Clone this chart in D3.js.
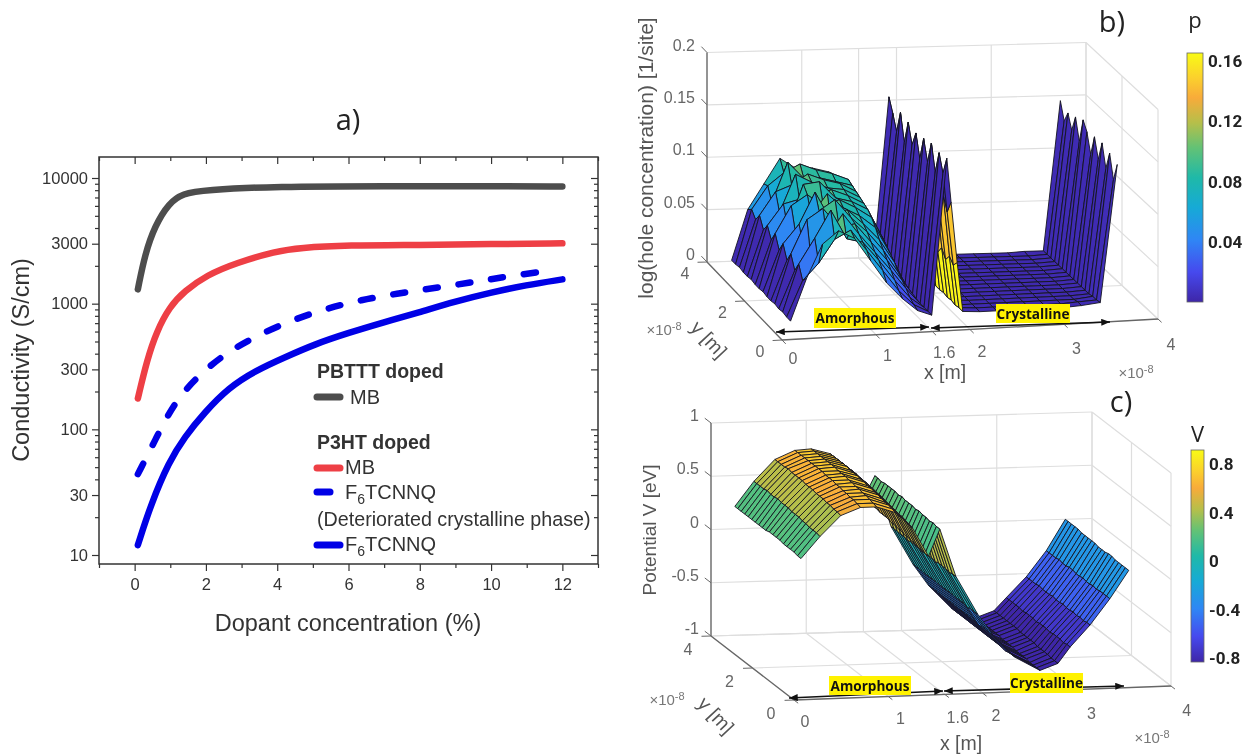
<!DOCTYPE html>
<html lang="en">
<head>
<meta charset="UTF-8"/>
<title>Conductivity and hole / potential surfaces</title>
<style>
  html, body { margin: 0; padding: 0; background: #fff; }
  svg { display: block; font-family: "Liberation Sans", Arial, sans-serif; filter: blur(0.35px); }
  .title { font-family: "Open Sans", sans-serif; fill: #222; }
  .lab3d { fill: #555; font-size: 19.5px; }
  .tick3d { fill: #666; font-size: 16px; text-anchor: middle; }
  .bar-label { fill: #222; font-size: 17px; font-weight: bold; font-family: "Liberation Sans Narrow", "Roboto", sans-serif; }
  .tag { font-family: "Open Sans", sans-serif; font-weight: bold; font-size: 13.6px; fill: #111; text-anchor: middle; }
  .axis-a text { font-family: "Liberation Sans", Arial, sans-serif; font-size: 16.5px; fill: #333; }
  .axis-a path, .axis-a line { stroke: #333; stroke-width: 1.2; }
</style>
</head>
<body>
<svg id="fig" width="1250" height="755"></svg>
<script src="https://d3js.org/d3.v7.min.js"></script>
<script>
// ---- panel a: conductivity vs dopant concentration
const pbtttX = [0.09, 0.29, 0.57, 0.96, 1.35, 1.96, 3.96, 7, 10, 12];
const pbtttMB = [1300, 2480, 4170, 6310, 7530, 8030, 8570, 8630, 8600, 8570];
const p3htMbX = [0.09, 0.35, 0.62, 0.98, 1.4, 2.02, 2.85, 3.96, 4.63, 5.97, 8, 10, 12];
const p3htMB = [176, 359, 603, 944, 1259, 1687, 2113, 2612, 2786, 2917, 2930, 2980, 3020];
const f6DashX = [0.09, 0.62, 1.12, 1.79, 2.57, 3.46, 4.41, 5.36, 6.36, 7.36, 8.36, 9.37, 10.37, 11.54];
const f6Dash = [44, 87, 165, 269, 407, 562, 738, 912, 1072, 1202, 1327, 1462, 1633, 1820];
const f6SolidX = [0.09, 0.46, 0.96, 1.4, 1.96, 2.63, 3.41, 4.19, 5.08, 5.97, 6.97, 7.97, 8.98, 9.98, 10.98, 12];
const f6Solid = [12, 25.5, 55, 87, 136, 214, 295, 372, 479, 582, 708, 851, 1040, 1222, 1406, 1560];
const condTicks = [10, 30, 100, 300, 1000, 3000, 10000];
const condMinor = [20, 40, 50, 60, 70, 80, 90, 200, 400, 500, 600, 700, 800, 900, 2000, 4000, 5000, 6000, 7000, 8000, 9000];
const concMajor = [0, 2, 4, 6, 8, 10, 12];
const concMinor = [-1, 1, 3, 5, 7, 9, 11, 13];

// ---- panels b, c: shared axis ticks
const xTicks3d = [0, 1, 1.6, 2, 3, 4];
const yTicks3d = [0, 2, 4];

// ---- panel b: hole concentration, rows run from front (small y) to back
const holeX = [0.25, 0.42, 0.59, 0.76, 0.93, 1.1, 1.27, 1.44, 1.6, 1.75, 1.91, 1.955, 2.02, 2.08, 2.26, 2.44, 2.62, 2.8, 2.98, 3.16, 3.34, 3.54, 3.72];
const holeY = [0.8, 1.01, 1.22, 1.43, 1.64, 1.85, 2.06, 2.27, 2.48, 2.69, 2.9, 3.11, 3.32, 3.53, 3.74, 3.95];
const holeP = [
  [.002,.042,.074,.086,.078,.056,.034,.018,.006,.001,.150,.108,.050,.003,.002,.002,.002,.002,.002,.002,.003,.005,.136],
  [.002,.036,.052,.074,.082,.062,.042,.022,.008,.001,.132,.095,.044,.003,.002,.002,.002,.002,.002,.002,.003,.004,.118],
  [.003,.048,.072,.098,.070,.066,.048,.028,.011,.001,.148,.107,.049,.002,.002,.002,.002,.002,.002,.002,.002,.004,.140],
  [.002,.038,.050,.068,.090,.070,.052,.034,.016,.001,.126,.091,.042,.003,.002,.002,.002,.002,.002,.002,.002,.003,.122],
  [.003,.050,.082,.092,.074,.076,.058,.040,.020,.002,.150,.108,.050,.002,.002,.002,.002,.002,.002,.002,.002,.003,.143],
  [.002,.040,.054,.086,.096,.078,.064,.046,.024,.002,.128,.092,.042,.003,.002,.002,.002,.002,.002,.002,.002,.003,.124],
  [.002,.052,.070,.100,.072,.082,.068,.052,.030,.002,.147,.106,.049,.002,.002,.002,.002,.002,.002,.002,.002,.003,.142],
  [.003,.042,.060,.074,.094,.080,.072,.060,.034,.002,.124,.089,.041,.002,.002,.002,.002,.002,.002,.002,.002,.003,.122],
  [.002,.054,.080,.090,.078,.084,.076,.066,.038,.002,.145,.104,.048,.003,.002,.002,.002,.002,.002,.002,.002,.003,.140],
  [.002,.044,.056,.096,.098,.082,.078,.070,.042,.003,.130,.094,.043,.002,.002,.002,.002,.002,.002,.002,.002,.003,.148],
  [.003,.054,.074,.078,.082,.086,.080,.072,.044,.002,.148,.107,.049,.002,.002,.002,.002,.002,.002,.002,.002,.003,.124],
  [.002,.046,.062,.098,.090,.084,.082,.074,.048,.003,.125,.090,.041,.003,.002,.002,.002,.002,.002,.002,.002,.003,.144],
  [.002,.056,.078,.084,.094,.088,.084,.076,.050,.002,.150,.108,.050,.002,.002,.002,.002,.002,.002,.002,.002,.003,.128],
  [.003,.048,.064,.102,.086,.086,.082,.078,.052,.003,.128,.092,.042,.002,.002,.002,.002,.002,.002,.002,.002,.003,.141],
  [.002,.054,.076,.088,.096,.090,.086,.080,.054,.003,.142,.102,.047,.003,.002,.002,.002,.002,.002,.002,.002,.003,.130],
  [.002,.050,.074,.098,.088,.088,.084,.076,.052,.003,.154,.111,.051,.003,.002,.002,.002,.002,.002,.002,.003,.003,.146]
];
// facet tone of the columns just behind the interface spike
const holeSpikeTones = { 10: .002, 11: .145, 12: .162 };
const holeBarTicks = [0.04, 0.08, 0.12, 0.16];

// ---- panel c: potential, rows run from front (small y) to back
const potX = [0.25, 0.45, 0.67, 0.88, 1.05, 1.25, 1.43, 1.6, 1.72, 1.89, 2.12, 2.28, 2.52, 2.78, 2.97, 3.1, 3.31, 3.52, 3.72];
const potY = [0.8, 0.97, 1.14, 1.31, 1.48, 1.65, 1.82, 1.99, 2.16, 2.33, 2.5, 2.67, 2.84, 3.01, 3.18, 3.35, 3.52, 3.69, 3.86, 4];
const potV = [
  [.20,.40,.59,.66,.66,.60,.45,.18,.43,-.02,-.38,-.58,-.80,-.93,-.87,-.72,-.52,-.28,-.02],
  [.20,.41,.60,.67,.67,.61,.46,.18,.43,-.02,-.38,-.58,-.80,-.93,-.87,-.72,-.52,-.28,-.02],
  [.21,.41,.60,.68,.68,.62,.47,.19,.44,-.03,-.38,-.58,-.80,-.93,-.87,-.73,-.53,-.28,-.02],
  [.21,.41,.61,.68,.69,.62,.48,.19,.43,-.02,-.39,-.58,-.81,-.93,-.86,-.72,-.52,-.28,-.02],
  [.21,.42,.61,.69,.69,.63,.48,.20,.44,-.02,-.38,-.59,-.80,-.92,-.86,-.72,-.53,-.29,-.02],
  [.21,.42,.62,.69,.70,.64,.49,.20,.44,-.02,-.38,-.58,-.80,-.92,-.86,-.72,-.52,-.28,-.01],
  [.22,.43,.62,.70,.70,.64,.50,.21,.45,-.03,-.38,-.58,-.80,-.92,-.86,-.73,-.53,-.29,-.01],
  [.22,.43,.62,.70,.71,.65,.50,.21,.44,-.02,-.38,-.58,-.80,-.92,-.85,-.72,-.53,-.29,-.02],
  [.22,.43,.63,.71,.71,.65,.51,.22,.45,-.02,-.38,-.58,-.80,-.91,-.85,-.72,-.52,-.28,-.02],
  [.22,.44,.63,.71,.72,.66,.52,.22,.45,-.02,-.38,-.58,-.80,-.91,-.85,-.72,-.53,-.29,-.02],
  [.21,.44,.63,.71,.72,.66,.52,.23,.45,-.03,-.38,-.58,-.80,-.91,-.85,-.73,-.53,-.29,-.01],
  [.21,.44,.64,.72,.72,.67,.53,.23,.46,-.02,-.38,-.58,-.80,-.91,-.85,-.72,-.52,-.28,-.01],
  [.21,.45,.64,.72,.73,.67,.53,.24,.45,-.02,-.38,-.58,-.80,-.90,-.84,-.72,-.53,-.28,-.01],
  [.21,.44,.64,.72,.73,.67,.54,.24,.46,-.02,-.38,-.58,-.80,-.90,-.84,-.72,-.53,-.29,-.01],
  [.21,.44,.64,.72,.73,.68,.54,.24,.46,-.03,-.38,-.58,-.80,-.90,-.84,-.73,-.53,-.29,-.01],
  [.21,.45,.65,.72,.73,.68,.54,.25,.46,-.02,-.38,-.58,-.80,-.90,-.84,-.72,-.52,-.28,.00],
  [.21,.44,.64,.72,.73,.68,.55,.25,.46,-.02,-.38,-.58,-.80,-.90,-.84,-.72,-.53,-.29,.00],
  [.21,.44,.64,.72,.73,.68,.55,.25,.45,-.02,-.38,-.58,-.80,-.90,-.84,-.72,-.53,-.29,.00],
  [.21,.44,.64,.72,.73,.68,.55,.25,.46,-.02,-.38,-.58,-.80,-.90,-.84,-.72,-.53,-.29,.00],
  [.21,.44,.64,.72,.73,.68,.55,.25,.46,-.02,-.38,-.58,-.80,-.90,-.84,-.72,-.53,-.29,.00]
];
const potBarTicks = [-0.8, -0.4, 0, 0.4, 0.8];

// parula-like colour stops
const paruT = [0, .12, .25, .38, .5, .62, .72, .82, .9, 1];
const paruC = ['#3e26a8', '#4649ee', '#2f86f5', '#16aad6', '#1fb9a8', '#63c275', '#b6bf4a', '#f8ab3a', '#fbd02d', '#f9fb15'];
const parula = d3.scaleLinear().domain(paruT).range(paruC).clamp(true);

const svg = d3.select('#fig');

// ======= panel a
const xA = d3.scaleLinear().domain([-1, 13]).range([99, 598]);
const yA = d3.scaleLog().domain([10, 10000]).range([555, 178]);
const frame = { top: 157, bottom: 564 };

const gA = svg.append('g');
gA.append('rect').attr('x', xA(-1)).attr('y', frame.top)
  .attr('width', xA(13) - xA(-1)).attr('height', frame.bottom - frame.top)
  .attr('fill', 'none').attr('stroke', '#333').attr('stroke-width', 1.5);

function axisTicks(g, axis, tx, ty) {
  const a = g.append('g').attr('class', 'axis-a').attr('transform', `translate(${tx},${ty})`).call(axis);
  a.select('.domain').remove();
  return a;
}
axisTicks(gA, d3.axisBottom(xA).tickValues(concMajor).tickSize(7).tickPadding(7).tickFormat(d3.format('d')), 0, frame.bottom);
axisTicks(gA, d3.axisBottom(xA).tickValues(concMinor).tickSize(4).tickFormat(''), 0, frame.bottom);
axisTicks(gA, d3.axisTop(xA).tickValues(concMajor).tickSize(-7).tickFormat(''), 0, frame.top);
axisTicks(gA, d3.axisTop(xA).tickValues(concMinor).tickSize(-4).tickFormat(''), 0, frame.top);
axisTicks(gA, d3.axisLeft(yA).tickValues(condTicks).tickSize(7).tickPadding(4).tickFormat(d3.format('d')), xA(-1), 0);
axisTicks(gA, d3.axisLeft(yA).tickValues(condMinor).tickSize(4).tickFormat(''), xA(-1), 0);
axisTicks(gA, d3.axisRight(yA).tickValues(condTicks).tickSize(-7).tickFormat(''), xA(13), 0);
axisTicks(gA, d3.axisRight(yA).tickValues(condMinor).tickSize(-4).tickFormat(''), xA(13), 0);

const curve = d3.line().x(d => xA(d[0])).y(d => yA(d[1])).curve(d3.curveBasis);
const curves = [
  { x: pbtttX, y: pbtttMB, color: '#4d4d4d' },
  { x: p3htMbX, y: p3htMB, color: '#ee3f45' },
  { x: f6DashX, y: f6Dash, color: '#0000e6', dash: '12 21' },
  { x: f6SolidX, y: f6Solid, color: '#0000e6' }
];
gA.selectAll('path.curve').data(curves).enter().append('path')
  .attr('class', 'curve')
  .attr('d', c => curve(d3.zip(c.x, c.y)))
  .attr('fill', 'none').attr('stroke', c => c.color).attr('stroke-width', 6.5)
  .attr('stroke-linecap', 'round').attr('stroke-dasharray', c => c.dash || null);

gA.append('text').attr('transform', 'translate(29,360) rotate(-90)').attr('text-anchor', 'middle')
  .attr('font-size', 23.5).attr('fill', '#333').text('Conductivity (S/cm)');
gA.append('text').attr('x', 348).attr('y', 631).attr('text-anchor', 'middle')
  .attr('font-size', 23.5).attr('fill', '#333').text('Dopant concentration (%)');

// legend
function legendText(x, y, str, bold) {
  return gA.append('text').attr('x', x).attr('y', y).attr('font-size', bold ? 19.5 : 20)
    .attr('font-weight', bold ? 'bold' : null).attr('fill', '#333').text(str);
}
function legendLine(y, color, x2) {
  gA.append('line').attr('x1', 317).attr('x2', x2 || 340).attr('y1', y).attr('y2', y)
    .attr('stroke', color).attr('stroke-width', 7).attr('stroke-linecap', 'round');
}
function f6Label(y) {
  const t = legendText(345, y, 'F');
  t.append('tspan').attr('font-size', 14).attr('dy', 5).text('6');
  t.append('tspan').attr('dy', -5).text('TCNNQ');
}
legendText(317, 378, 'PBTTT doped', true);
legendLine(397, '#4d4d4d');
legendText(350, 404, 'MB');
legendText(317, 449, 'P3HT doped', true);
legendLine(468, '#ee3f45');
legendText(345, 474, 'MB');
legendLine(492, '#0000e6', 330);
f6Label(499);
legendText(317, 526, '(Deteriorated crystalline phase)').attr('font-size', 19.7);
legendLine(545, '#0000e6');
f6Label(551);

// ======= 3d panels
function surfacePanel(cfg) {
  const g = svg.append('g');
  const sx = d3.scaleLinear().domain([0, 4]).range([0, 1]);
  const sy = d3.scaleLinear().domain([0, 4]).range([0, 1]);
  const sz = d3.scaleLinear().domain(cfg.zDomain).range([0, cfg.zHeight]);
  const { F, R, A, B } = cfg;
  // floor is bilinear between its corners, z lifts straight up
  function project(x, y, z) {
    const u = sx(x), v = sy(y);
    const px = (1 - v) * ((1 - u) * F[0] + u * R[0]) + v * ((1 - u) * A[0] + u * B[0]);
    const py = (1 - v) * ((1 - u) * F[1] + u * R[1]) + v * ((1 - u) * A[1] + u * B[1]);
    return [px, py - sz(z)];
  }
  const z0 = cfg.zDomain[0], z1 = cfg.zDomain[1];
  const seg = (a, b, color, w) => g.append('line')
    .attr('x1', a[0]).attr('y1', a[1]).attr('x2', b[0]).attr('y2', b[1])
    .attr('stroke', color).attr('stroke-width', w);
  const gridC = '#dedede', axisC = '#666';

  // grid lines on walls and floor
  cfg.zTicks.forEach(z => {
    seg(project(0, 4, z), project(4, 4, z), gridC, 1.2);
    seg(project(4, 4, z), project(4, 0, z), gridC, 1.2);
  });
  xTicks3d.forEach(x => {
    seg(project(x, 4, z0), project(x, 4, z1), gridC, 1.2);
    seg(project(x, 0, z0), project(x, 4, z0), gridC, 1.2);
  });
  yTicks3d.forEach(y => {
    seg(project(0, y, z0), project(4, y, z0), gridC, 1.2);
    seg(project(4, y, z0), project(4, y, z1), gridC, 1.2);
  });
  // axis lines and ticks
  seg(project(0, 4, z0), project(0, 4, z1), axisC, 1.3);
  seg(project(0, 0, z0), project(0, 4, z0), axisC, 1.3);
  seg(project(0, 0, z0), project(4, 0, z0), axisC, 1.3);
  cfg.zTicks.forEach(z => seg(project(0, 4, z), project(0, 4.3, z), axisC, 1));
  yTicks3d.forEach(y => seg(project(0, y, z0), project(-0.1, y, z0), axisC, 1));
  xTicks3d.forEach(x => seg(project(x, 0, z0), project(x, -0.2, z0), axisC, 1));

  // facets, back to front; flat colour comes from the low-index corner
  const color = v => parula((v - cfg.cDomain[0]) / (cfg.cDomain[1] - cfg.cDomain[0]));
  const tones = cfg.tones || {};
  const faces = [];
  for (let j = cfg.ys.length - 2; j >= 0; j--) {
    for (let i = cfg.xs.length - 2; i >= 0; i--) {
      faces.push({
        v: tones[i] !== undefined ? tones[i] : cfg.zs[j][i],
        pts: [[i, j], [i + 1, j], [i + 1, j + 1], [i, j + 1]]
          .map(([a, b]) => project(cfg.xs[a], cfg.ys[b], cfg.zs[b][a]))
      });
    }
  }
  const poly = d3.line();
  g.append('g').selectAll('path').data(faces).enter().append('path')
    .attr('d', f => poly(f.pts) + 'Z')
    .attr('fill', f => color(f.v))
    .attr('stroke', '#14141f').attr('stroke-width', 0.9).attr('stroke-linejoin', 'round');

  // tick labels
  cfg.zTicks.forEach(z => {
    const p = project(0, 4, z);
    g.append('text').attr('x', p[0] - 12).attr('y', p[1] - 2)
      .attr('class', 'tick3d').style('text-anchor', 'end').text(z);
  });
  yTicks3d.forEach(y => {
    const p = project(0, y, z0);
    g.append('text').attr('x', p[0] + cfg.yOff[0]).attr('y', p[1] + cfg.yOff[1]).attr('class', 'tick3d').text(y);
  });
  xTicks3d.forEach(x => {
    const p = project(x, 0, z0);
    g.append('text').attr('x', p[0] + cfg.xOff[0] + cfg.xOff[1] * x)
      .attr('y', p[1] + cfg.xOff[2] + cfg.xOff[3] * x).attr('class', 'tick3d').text(x);
  });

  // axis titles
  g.append('text').attr('class', 'lab3d')
    .attr('transform', `translate(${cfg.zLabel[0]},${cfg.zLabel[1]}) rotate(-90)`)
    .attr('text-anchor', 'middle').style('font-size', cfg.zLabel[2] + 'px').text(cfg.zTitle);
  g.append('text').attr('class', 'lab3d').attr('x', cfg.xLabel[0]).attr('y', cfg.xLabel[1])
    .attr('text-anchor', 'middle').text('x [m]');
  g.append('text').attr('class', 'lab3d')
    .attr('transform', `translate(${cfg.yLabel[0]},${cfg.yLabel[1]}) rotate(47)`)
    .attr('text-anchor', 'middle').text('y [m]');
  [cfg.expL, cfg.expR].forEach(p => {
    const t = g.append('text').attr('x', p[0]).attr('y', p[1]).attr('fill', '#777')
      .attr('text-anchor', 'middle').attr('font-size', 15).text('\u00d710');
    t.append('tspan').attr('dy', -5).attr('font-size', 11).text('-8');
  });

  // region tags with arrows
  const mk = `arrow-${cfg.id}`;
  ['start', 'end'].forEach(kind => {
    svg.append('defs').append('marker').attr('id', `${mk}-${kind}`).attr('viewBox', '0 0 10 8')
      .attr('refX', kind === 'end' ? 10 : 0).attr('refY', 4).attr('markerWidth', 9).attr('markerHeight', 7)
      .attr('markerUnits', 'userSpaceOnUse').attr('orient', 'auto')
      .append('path').attr('d', kind === 'end' ? 'M0,0L10,4L0,8Z' : 'M10,0L0,4L10,8Z').attr('fill', '#111');
  });
  cfg.arrows.forEach(a => {
    g.append('line').attr('x1', a[0]).attr('y1', a[1]).attr('x2', a[2]).attr('y2', a[3])
      .attr('stroke', '#111').attr('stroke-width', 1.6)
      .attr('marker-start', `url(#${mk}-start)`).attr('marker-end', `url(#${mk}-end)`);
  });
  cfg.tags.forEach(t => {
    g.append('rect').attr('x', t.x).attr('y', t.y).attr('width', t.w).attr('height', t.h).attr('fill', '#fff200');
    g.append('text').attr('class', 'tag').attr('x', t.x + t.w / 2).attr('y', t.y + t.h / 2 + 5).text(t.s);
  });

  // colour bar
  const cb = cfg.bar;
  const gradId = `grad-${cfg.id}`;
  const grad = svg.append('defs').append('linearGradient').attr('id', gradId)
    .attr('x1', 0).attr('x2', 0).attr('y1', 1).attr('y2', 0);
  grad.selectAll('stop').data(paruT).enter().append('stop')
    .attr('offset', d => d).attr('stop-color', d => parula(d));
  g.append('rect').attr('x', cb.x).attr('y', cb.top).attr('width', cb.w).attr('height', cb.bottom - cb.top)
    .attr('fill', `url(#${gradId})`).attr('stroke', '#666').attr('stroke-width', 0.8);
  const sc = d3.scaleLinear().domain(cb.domain).range([cb.bottom, cb.top]);
  cfg.barTicks.forEach(v => {
    g.append('text').attr('class', 'bar-label').attr('x', cb.x + cb.w + 5).attr('y', sc(v) + 6).text(v);
  });
  g.append('text').attr('class', 'title').attr('x', cb.x + cb.w / 2).attr('y', cb.top - cb.titleGap)
    .attr('text-anchor', 'middle').attr('font-size', 22).text(cfg.barTitle);
}

surfacePanel({
  id: 'b', xs: holeX, ys: holeY, zs: holeP, tones: holeSpikeTones,
  F: [782, 340], R: [1158, 319], A: [707, 262], B: [1086, 252],
  zDomain: [0, 0.2], zHeight: 209.5, zTicks: [0, 0.05, 0.1, 0.15, 0.2],
  cDomain: [0, 0.165],
  yOff: [-22, 17], xOff: [11, 0.5, 24, 1.8], zTitle: 'log(hole concentration) [1/site]',
  zLabel: [653, 158, 21], xLabel: [945, 379], yLabel: [704, 344],
  expL: [664, 335], expR: [1136, 378],
  arrows: [[776, 332, 929, 327], [931, 328, 1110, 322]],
  tags: [{ x: 814, y: 308, w: 82, h: 20, s: 'Amorphous' }, { x: 996, y: 304, w: 74, h: 19, s: 'Crystalline' }],
  bar: { x: 1187, w: 16, top: 53, bottom: 302, domain: [0.0003, 0.165], titleGap: 25 },
  barTicks: holeBarTicks, barTitle: 'p'
});

surfacePanel({
  id: 'c', xs: potX, ys: potY, zs: potV,
  F: [794, 700], R: [1171, 686], A: [711, 636], B: [1092, 625],
  zDomain: [-1, 1], zHeight: 213, zTicks: [-1, -0.5, 0, 0.5, 1],
  cDomain: [-0.83, 0.92],
  yOff: [-23, 19], xOff: [11, 1.2, 27, 0.7], zTitle: 'Potential V [eV]',
  zLabel: [656, 530, 19], xLabel: [961, 750], yLabel: [711, 720],
  expL: [667, 705], expR: [1152, 743],
  arrows: [[789, 698, 943, 691], [944, 691, 1124, 686]],
  tags: [{ x: 829, y: 676, w: 82, h: 19, s: 'Amorphous' }, { x: 1010, y: 673, w: 73, h: 20, s: 'Crystalline' }],
  bar: { x: 1191, w: 13, top: 450, bottom: 662, domain: [-0.83, 0.915], titleGap: 8 },
  barTicks: potBarTicks, barTitle: 'V'
});

// panel letters
[['a)', 348, 130], ['b)', 1112, 32], ['c)', 1121, 412]].forEach(([s, x, y]) => {
  svg.append('text').attr('class', 'title').attr('x', x).attr('y', y)
    .attr('text-anchor', 'middle').attr('font-size', 29).text(s);
});
</script>
</body>
</html>
